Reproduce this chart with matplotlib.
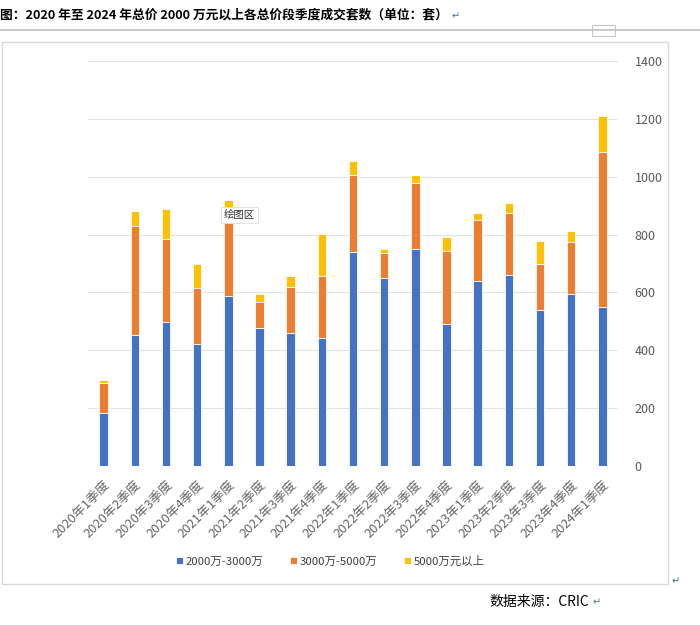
import matplotlib
matplotlib.use("Agg")
import matplotlib.pyplot as plt
from matplotlib.patches import Rectangle
from matplotlib.lines import Line2D
import numpy as np

plt.rcParams['font.family'] = ['Noto Sans CJK SC', 'DejaVu Sans']

quarters = ["2020年1季度", "2020年2季度", "2020年3季度", "2020年4季度",
            "2021年1季度", "2021年2季度", "2021年3季度", "2021年4季度",
            "2022年1季度", "2022年2季度", "2022年3季度", "2022年4季度",
            "2023年1季度", "2023年2季度", "2023年3季度", "2023年4季度",
            "2024年1季度"]
s_2000_3000 = [184, 454, 498, 421, 586, 477, 459, 444, 739, 651, 749, 490,
               641, 661, 538, 593, 551]
s_3000_5000 = [104, 374, 285, 195, 299, 91, 161, 213, 268, 86, 231, 252,
               211, 212, 161, 182, 533]
s_5000_up = [8, 55, 106, 81, 35, 25, 36, 146, 48, 12, 26, 51,
             23, 35, 80, 36, 126]
series_names = ["2000万-3000万", "3000万-5000万", "5000万元以上"]
colors = ["#4472C4", "#ED7D31", "#FFC000"]

fig = plt.figure(figsize=(7, 6.25), dpi=100)
ax = fig.add_axes([88 / 700, 1 - 466 / 625, 530 / 700, 405 / 625])

x = np.arange(len(quarters))
bottom = np.zeros(len(quarters))
for vals, name, c in zip([s_2000_3000, s_3000_5000, s_5000_up], series_names, colors):
    ax.bar(x, vals, 0.27, bottom=bottom, color=c, edgecolor="white",
           linewidth=0.6, label=name, zorder=3)
    bottom += np.array(vals)

ax.set_xlim(-0.5, len(quarters) - 0.5)
ax.set_ylim(0, 1400)
ax.set_yticks(range(0, 1401, 200))
ax.yaxis.tick_right()
ax.grid(axis="y", color="#E3E3E3", linewidth=0.8, zorder=0)
for sp in ax.spines.values():
    sp.set_visible(False)
ax.tick_params(axis="both", length=0, colors="#595959", labelsize=9)
ax.tick_params(axis="y", pad=12)
ax.tick_params(axis="x", pad=9)
ax.set_xticks(x)
ax.set_xticklabels(quarters, rotation=45, ha="right", rotation_mode="anchor",
                   fontsize=9.3, color="#666666")

leg = fig.legend(loc="center", bbox_to_anchor=(0.472, 1 - 561 / 625), ncol=3,
                 frameon=False, fontsize=8.2, handlelength=0.6, handleheight=0.6,
                 columnspacing=2.3, handletextpad=0.3)
for t in leg.get_texts():
    t.set_color("#404040")

# tooltip
ax.text(4.35, 868, "绘图区", fontsize=7.5, color="#333333",
        va="center", ha="center", zorder=5,
        bbox=dict(boxstyle="square,pad=0.3", fc="white", ec="#DDDDDD", lw=0.6))

# document decoration
fig.patches.append(Rectangle((2 / 700, 1 - 584 / 625), 666 / 700, 542 / 625,
                             transform=fig.transFigure, fill=False,
                             ec="#D9D9D9", lw=1))
fig.lines.append(Line2D([0, 1], [1 - 30 / 625, 1 - 30 / 625],
                        transform=fig.transFigure, color="#BFBFBF", lw=1.2))
fig.patches.append(Rectangle((592 / 700, 1 - 36 / 625), 23 / 700, 11 / 625,
                             transform=fig.transFigure, fill=True, fc="white",
                             ec="#C8C8C8", lw=0.8))

fig.text(0.0, 1 - 15 / 625,
         "图：2020 年至 2024 年总价 2000 万元以上各总价段季度成交套数（单位：套）",
         fontsize=9.2, fontweight="bold", va="center", ha="left", color="black")
fig.text(452 / 700, 1 - 16 / 625, "↵", fontsize=7, color="#4A6FA5",
         va="center", family=["DejaVu Sans"])
fig.text(672 / 700, 1 - 581 / 625, "↵", fontsize=7, color="#4A6FA5",
         va="center", family=["DejaVu Sans"])
fig.text(489 / 700, 1 - 602 / 625, "数据来源：CRIC", fontsize=10,
         color="black", va="center", ha="left")
fig.text(593 / 700, 1 - 602 / 625, "↵", fontsize=7, color="#4A6FA5",
         va="center", family=["DejaVu Sans"])

fig.savefig("out.png", dpi=100)
